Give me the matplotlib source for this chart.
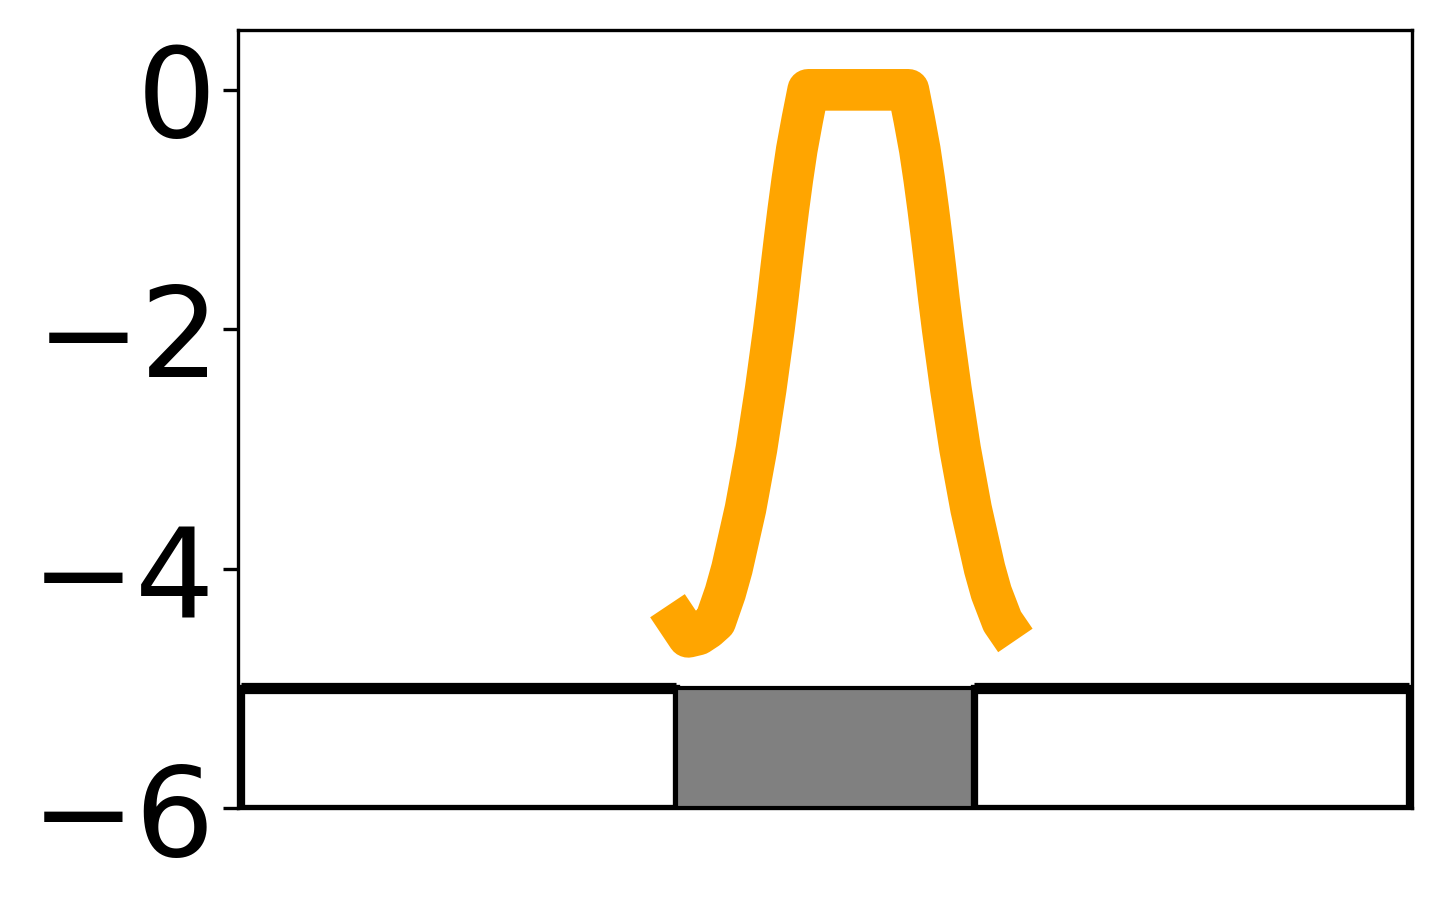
import numpy as np
import matplotlib.pyplot as plt
from matplotlib.patches import Rectangle

# curve values
curve_x = [-1.060, -0.920, -0.853, -0.792, -0.738, -0.671, -0.626, -0.535, -0.461,
           -0.399, -0.344, -0.319, -0.296, -0.272, -0.247, -0.220, -0.190, -0.153, -0.113,
           0.561, 0.601, 0.638, 0.668, 0.695, 0.720, 0.744, 0.767, 0.792, 0.847,
           0.909, 0.983, 1.074, 1.119, 1.193, 1.281]
curve_y = [-4.31, -4.57, -4.55, -4.50, -4.44, -4.20, -4.00, -3.50, -3.00,
           -2.50, -2.00, -1.75, -1.50, -1.25, -1.00, -0.75, -0.50, -0.25, 0.00,
           0.00, -0.25, -0.50, -0.75, -1.00, -1.25, -1.50, -1.75, -2.00, -2.50,
           -3.00, -3.50, -4.00, -4.20, -4.44, -4.60]

# bottom bar segments
seg_start = [-3.93, -1.0, 1.0]
seg_end = [-1.0, 1.0, 3.93]
seg_color = ['white', 'gray', 'white']
bar_bottom, bar_top = -6.0, -5.0

yticks = [0, -2, -4, -6]

fig = plt.figure(figsize=(1442 / 300, 911 / 300), dpi=300)
ax = fig.add_axes([238 / 1442, 1 - 808 / 911, 1174 / 1442, 778 / 911])

ax.plot(curve_x, curve_y, color='orange', lw=10,
        solid_joinstyle='round', solid_capstyle='butt')

for s, e, c in zip(seg_start, seg_end, seg_color):
    lw = 1.0 if c == 'gray' else 1.75
    ax.add_patch(Rectangle((s, bar_bottom), e - s, bar_top - bar_bottom,
                           facecolor=c, edgecolor='black', lw=lw, zorder=3))
    if c == 'white':
        ax.hlines(bar_top, s, e, color='black', lw=2.7, zorder=4)

ax.set_xlim(-3.95, 3.95)
ax.set_ylim(-6, 0.5)
ax.set_xticks([])
ax.set_yticks(yticks)
ax.set_yticklabels([f'$-{abs(t)}$' if t < 0 else '$0$' for t in yticks])
ax.tick_params(axis='y', labelsize=30)

fig.savefig('out.png', dpi=300)
